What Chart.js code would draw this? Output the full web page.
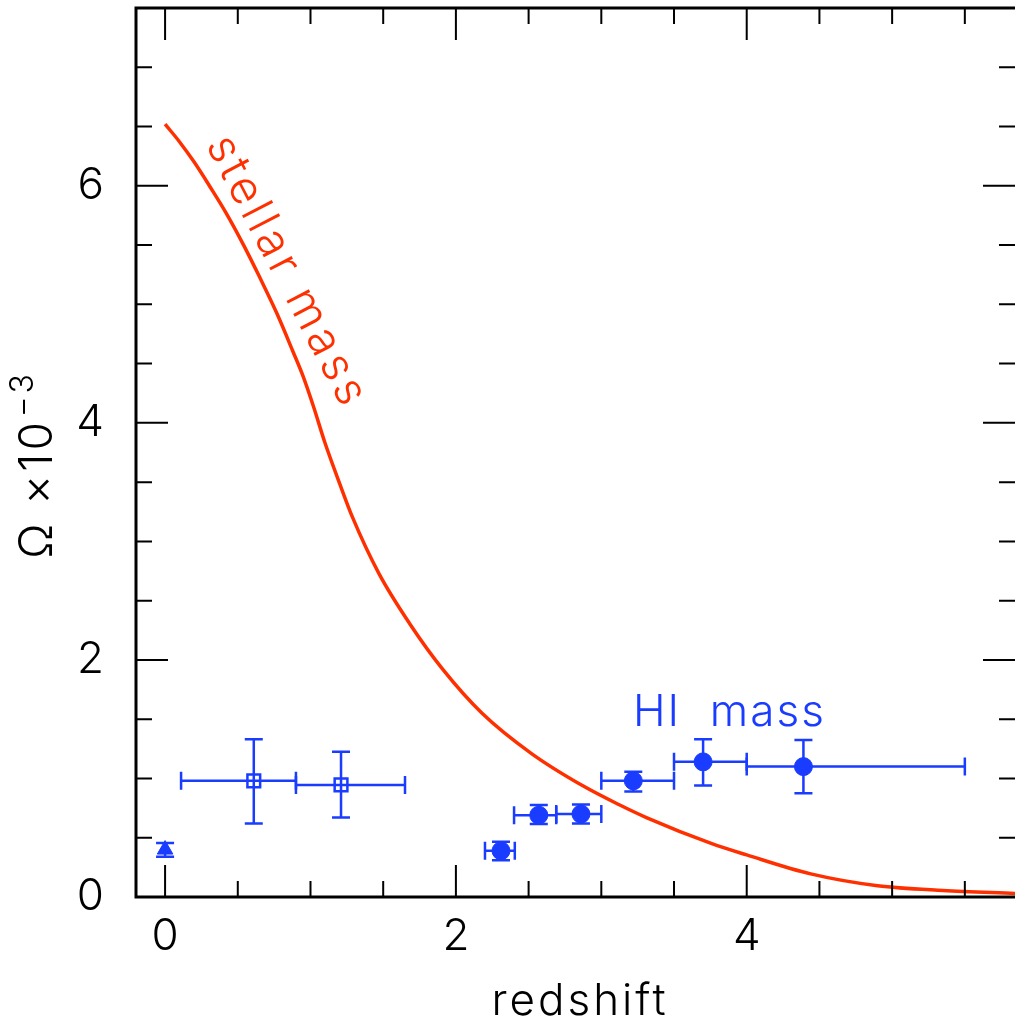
<!DOCTYPE html>
<html lang="en">
<head>
<meta charset="UTF-8">
<title>Omega vs redshift</title>
<script src="https://cdn.jsdelivr.net/npm/chart.js"></script>
<style>
  body { margin: 0; padding: 0; background: #fff; }
  #wrap { width: 1015px; height: 1024px; }
</style>
</head>
<body>
<div id="wrap"><canvas id="chart" width="1015" height="1024"></canvas></div>
<script>
// stellar mass density curve
const stellarZ = [0, 0.10, 0.20, 0.31, 0.42, 0.54, 0.65, 0.77, 0.88, 0.95, 1.02, 1.10, 1.20, 1.29, 1.47, 1.68, 1.91, 2.18, 2.52, 2.87, 3.12, 3.31, 3.76, 4.00, 4.44, 4.90, 5.35, 5.85];
const stellarOmega = [6.52, 6.37, 6.20, 5.99, 5.77, 5.50, 5.23, 4.92, 4.60, 4.39, 4.14, 3.83, 3.49, 3.20, 2.73, 2.31, 1.92, 1.55, 1.21, 0.94, 0.78, 0.67, 0.45, 0.355, 0.195, 0.095, 0.055, 0.03];

// HI: local point (triangle)
const triZ = [0.0];
const triOmega = [0.40];
const triOmLo = [0.34];
const triOmHi = [0.455];

// HI: open squares
const sqZ = [0.61, 1.21];
const sqZLo = [0.11, 0.90];
const sqZHi = [0.90, 1.65];
const sqOmega = [0.98, 0.945];
const sqOmLo = [0.62, 0.67];
const sqOmHi = [1.33, 1.225];

// HI: filled circles (DLA)
const dlaZ = [2.31, 2.57, 2.86, 3.22, 3.70, 4.39];
const dlaZLo = [2.20, 2.40, 2.69, 3.00, 3.50, 4.00];
const dlaZHi = [2.405, 2.69, 3.00, 3.50, 4.00, 5.50];
const dlaOmega = [0.39, 0.69, 0.70, 0.98, 1.14, 1.10];
const dlaOmLo = [0.31, 0.616, 0.62, 0.89, 0.94, 0.875];
const dlaOmHi = [0.466, 0.776, 0.78, 1.056, 1.33, 1.325];

const xTickLabels = [0, 2, 4];
const yTickLabels = [0, 2, 4, 6];

const RED = '#ff3000';
const BLUE = '#1a3cff';
const FONT = 'Inter, "DejaVu Sans", sans-serif';

function pts(xs, ys) {
    return xs.map((x, i) => ({ x: x, y: ys[i] }));
}

// error bars for each dataset index
const errors = {
    1: { xLo: triZ, xHi: triZ, yLo: triOmLo, yHi: triOmHi },
    2: { xLo: sqZLo, xHi: sqZHi, yLo: sqOmLo, yHi: sqOmHi },
    3: { xLo: dlaZLo, xHi: dlaZHi, yLo: dlaOmLo, yHi: dlaOmHi }
};

const errorBarPlugin = {
    id: 'errorBars',
    beforeDatasetsDraw(chart) {
        const ctx = chart.ctx;
        const xs = chart.scales.x, ys = chart.scales.y;
        const cap = 9;
        ctx.save();
        ctx.strokeStyle = BLUE;
        ctx.lineWidth = 2.5;
        Object.keys(errors).forEach(k => {
            const e = errors[k];
            const data = chart.data.datasets[k].data;
            data.forEach((p, i) => {
                const px = xs.getPixelForValue(p.x), py = ys.getPixelForValue(p.y);
                const x0 = xs.getPixelForValue(e.xLo[i]), x1 = xs.getPixelForValue(e.xHi[i]);
                const y0 = ys.getPixelForValue(e.yLo[i]), y1 = ys.getPixelForValue(e.yHi[i]);
                ctx.beginPath();
                if (x1 - x0 > 1) {
                    ctx.moveTo(x0, py); ctx.lineTo(x1, py);
                    ctx.moveTo(x0, py - cap); ctx.lineTo(x0, py + cap);
                    ctx.moveTo(x1, py - cap); ctx.lineTo(x1, py + cap);
                }
                ctx.moveTo(px, y0); ctx.lineTo(px, y1);
                ctx.moveTo(px - cap, y0); ctx.lineTo(px + cap, y0);
                ctx.moveTo(px - cap, y1); ctx.lineTo(px + cap, y1);
                ctx.stroke();
            });
        });
        ctx.restore();
    }
};

const framePlugin = {
    id: 'frame',
    afterDraw(chart) {
        const ctx = chart.ctx;
        const a = chart.chartArea;
        const xs = chart.scales.x, ys = chart.scales.y;
        ctx.save();
        ctx.strokeStyle = '#000';
        ctx.lineWidth = 2;
        // ticks on all four sides, pointing inward
        for (let v = 0; v <= 5.5 + 1e-9; v += 0.5) {
            const px = xs.getPixelForValue(v);
            const len = (Math.abs(v % 2) < 1e-9) ? 32 : 16;
            ctx.beginPath();
            ctx.moveTo(px, a.bottom); ctx.lineTo(px, a.bottom - len);
            ctx.moveTo(px, a.top); ctx.lineTo(px, a.top + len);
            ctx.stroke();
        }
        for (let v = 0.5; v <= 7.0 + 1e-9; v += 0.5) {
            const py = ys.getPixelForValue(v);
            const len = (Math.abs(v % 2) < 1e-9) ? 32 : 16;
            ctx.beginPath();
            ctx.moveTo(a.left, py); ctx.lineTo(a.left + len, py);
            ctx.moveTo(a.right, py); ctx.lineTo(a.right - len, py);
            ctx.stroke();
        }
        // frame: left, bottom, top
        ctx.lineWidth = 3;
        ctx.beginPath();
        ctx.moveTo(a.right + 2, a.top); ctx.lineTo(a.left, a.top);
        ctx.lineTo(a.left, a.bottom); ctx.lineTo(a.right + 2, a.bottom);
        ctx.stroke();

        // axis titles
        ctx.letterSpacing = '3px';
        ctx.fillStyle = '#000';
        ctx.font = '300 44px ' + FONT;
        ctx.textAlign = 'center';
        ctx.textBaseline = 'alphabetic';
        ctx.fillText('redshift', 580, 1015);

        // y title with superscript
        ctx.save();
        ctx.translate(52, 465);
        ctx.rotate(-Math.PI / 2);
        ctx.textAlign = 'left';
        const main = 'Ω ×10';
        ctx.font = '300 46px ' + FONT;
        const w1 = ctx.measureText(main).width;
        ctx.font = '300 32px ' + FONT;
        const w2 = ctx.measureText('−3').width;
        const start = -(w1 + w2 + 2) / 2;
        ctx.font = '300 46px ' + FONT;
        ctx.fillText(main, start, 0);
        ctx.font = '300 32px ' + FONT;
        ctx.fillText('−3', start + w1 + 2, -19);
        ctx.restore();

        // curve labels
        ctx.fillStyle = BLUE;
        ctx.letterSpacing = '2px';
        ctx.font = '300 44px ' + FONT;
        ctx.textAlign = 'left';
        ctx.fillText('HI  mass', 633, 726);

        ctx.save();
        ctx.fillStyle = RED;
        ctx.letterSpacing = '4px';
        ctx.font = '300 46px ' + FONT;
        ctx.translate(287, 272);
        ctx.rotate(62.6 * Math.PI / 180);
        ctx.textAlign = 'center';
        ctx.textBaseline = 'middle';
        ctx.fillText('stellar mass', 0, 0);
        ctx.restore();

        ctx.restore();
    }
};

function noPad(s) {
    s.paddingTop = 0; s.paddingBottom = 0; s.paddingLeft = 0; s.paddingRight = 0;
}

const ctx = document.getElementById('chart').getContext('2d');
const chart = new Chart(ctx, {
    type: 'scatter',
    data: {
        datasets: [
            {
                label: 'stellar mass',
                data: pts(stellarZ, stellarOmega),
                showLine: true,
                borderColor: RED,
                borderWidth: 3.5,
                pointRadius: 0,
                cubicInterpolationMode: 'monotone',
                fill: false
            },
            {
                label: 'HI local',
                data: pts(triZ, triOmega),
                pointStyle: 'triangle',
                pointRadius: 9,
                backgroundColor: BLUE,
                borderColor: BLUE,
                borderWidth: 1
            },
            {
                label: 'HI 21cm',
                data: pts(sqZ, sqOmega),
                pointStyle: 'rect',
                pointRadius: 9,
                backgroundColor: 'rgba(0,0,0,0)',
                borderColor: BLUE,
                borderWidth: 2.5
            },
            {
                label: 'HI DLA',
                data: pts(dlaZ, dlaOmega),
                pointStyle: 'circle',
                pointRadius: 9,
                backgroundColor: BLUE,
                borderColor: BLUE,
                borderWidth: 1
            }
        ]
    },
    options: {
        responsive: false,
        animation: false,
        layout: { autoPadding: false, padding: { top: 8, right: 0, left: 0, bottom: 0 } },
        plugins: { legend: { display: false }, tooltip: { enabled: false } },
        scales: {
            x: {
                type: 'linear',
                min: -0.2,
                max: 5.845,
                grid: { display: false },
                border: { display: false },
                afterBuildTicks: s => { s.ticks = xTickLabels.map(v => ({ value: v })); },
                afterFit: s => { s.height = 127; noPad(s); },
                ticks: { font: { family: FONT, size: 44, weight: 300 }, color: '#000', padding: 5, maxRotation: 0 }
            },
            y: {
                type: 'linear',
                min: 0,
                max: 7.5,
                grid: { display: false },
                border: { display: false },
                afterBuildTicks: s => { s.ticks = yTickLabels.map(v => ({ value: v })); },
                afterFit: s => { s.width = 136; noPad(s); },
                ticks: { font: { family: FONT, size: 44, weight: 300 }, color: '#000', padding: 24 }
            }
        }
    },
    plugins: [errorBarPlugin, framePlugin]
});
</script>
</body>
</html>
